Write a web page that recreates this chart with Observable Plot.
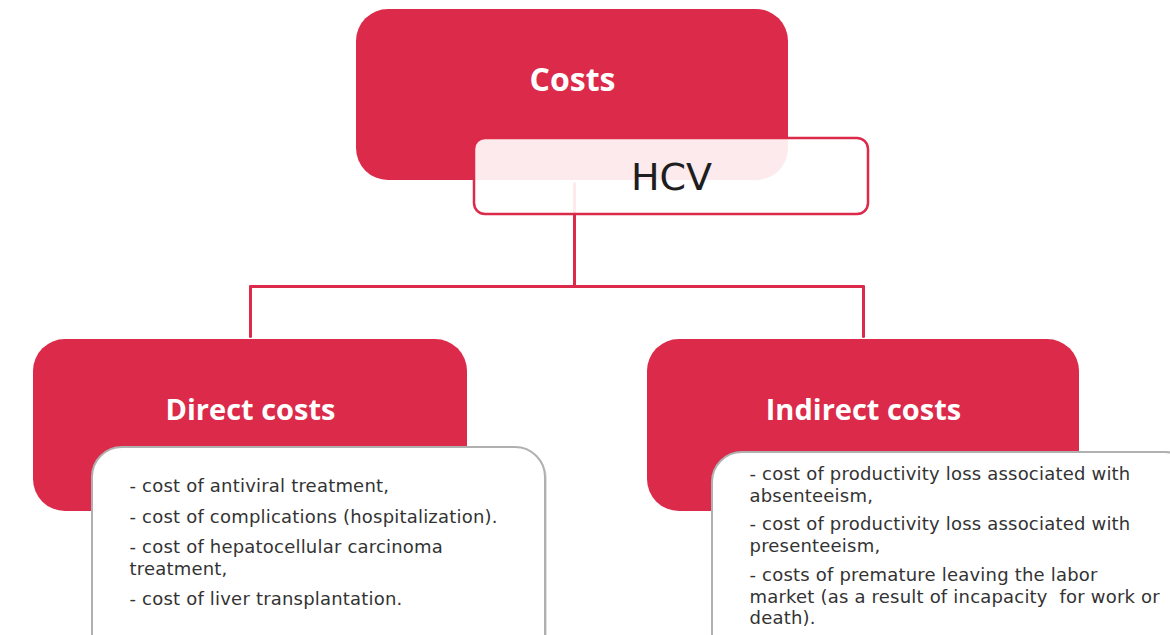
<!DOCTYPE html>
<html>
<head>
<meta charset="utf-8">
<script src="https://cdn.jsdelivr.net/npm/d3@7"></script>
<script src="https://cdn.jsdelivr.net/npm/@observablehq/plot@0.6"></script>
<style>
  html, body { margin: 0; padding: 0; background: #fff; overflow: hidden; width: 1170px; height: 635px; }
  #chart svg { display: block; }
</style>
</head>
<body>
<div id="chart"></div>
<script>
// ---- content ----
const titles = ["Costs", "Direct costs", "Indirect costs"];
const centerLabel = ["HCV"];
const directItems = [
  "- cost of antiviral treatment,",
  "- cost of complications (hospitalization).",
  "- cost of hepatocellular carcinoma",
  "treatment,",
  "- cost of liver transplantation."
];
const indirectItems = [
  "- cost of productivity loss associated with",
  "absenteeism,",
  "- cost of productivity loss associated with",
  "presenteeism,",
  "- costs of premature leaving the labor",
  "market (as a result of incapacity  for work or",
  "death)."
];

// ---- layout (diagram coordinates, pixel space 1170 x 635, y downward) ----
const titleBoxX1 = [356, 33, 647];
const titleBoxX2 = [788, 467, 1079];
const titleBoxY1 = [9, 339, 339];
const titleBoxY2 = [180, 511, 511];
const titleX = [572, 250, 863];
const titleY = [80, 410, 410];

const hcvBox = {x1: 474, x2: 868, y1: 138, y2: 214, x: 671, y: 177};

const linkX1 = [574, 250, 250, 863];
const linkY1 = [183, 286, 286, 286];
const linkX2 = [574, 863, 250, 863];
const linkY2 = [286, 286, 336, 336];

const detailX1 = [92, 712];
const detailX2 = [545, 1195];
const detailY1 = [447, 452];
const detailY2 = [670, 670];

const directX = 129;
const directY = [486, 517, 547, 569, 599];
const indirectX = 749;
const indirectY = [474, 496, 524, 546, 575, 597, 618];

// ---- tables built from the arrays ----
const titleBoxes = titles.map((t, i) => ({t, x1: titleBoxX1[i], x2: titleBoxX2[i], y1: titleBoxY1[i], y2: titleBoxY2[i], x: titleX[i], y: titleY[i]}));
const links = linkX1.map((_, i) => ({x1: linkX1[i], y1: linkY1[i], x2: linkX2[i], y2: linkY2[i]}));
const details = detailX1.map((_, i) => ({x1: detailX1[i], x2: detailX2[i], y1: detailY1[i], y2: detailY2[i]}));
const lines = [
  ...directItems.map((t, i) => ({t, x: directX, y: directY[i]})),
  ...indirectItems.map((t, i) => ({t, x: indirectX, y: indirectY[i]}))
];

const RED = "#dc2a4a";

const plot = Plot.plot({
  width: 1170,
  height: 635,
  margin: 0,
  style: {background: "#fff", overflow: "hidden"},
  x: {domain: [0, 1170], axis: null},
  y: {domain: [0, 635], reverse: true, axis: null},
  marks: [
    // red title boxes
    Plot.rect(titleBoxes, {x1: "x1", x2: "x2", y1: "y1", y2: "y2", fill: RED, rx: 32}),
    // connectors
    Plot.link(links, {x1: "x1", y1: "y1", x2: "x2", y2: "y2", stroke: RED, strokeWidth: 3, strokeLinecap: "round"}),
    // HCV box (semi-transparent white over the red box)
    Plot.rect([hcvBox], {x1: "x1", x2: "x2", y1: "y1", y2: "y2", fill: "#fff", fillOpacity: 0.9, stroke: RED, strokeWidth: 2.5, rx: 11}),
    Plot.text(centerLabel, {x: () => hcvBox.x, y: () => hcvBox.y, text: d => d, fill: "#1e1e1e", fontSize: 38, fontFamily: "DejaVu Sans", lineAnchor: "middle"}),
    // titles
    Plot.text(titleBoxes.slice(0, 1), {x: "x", y: "y", text: "t", fill: "#fff", fontSize: 32, fontWeight: "bold", fontFamily: "Open Sans", lineAnchor: "middle"}),
    Plot.text(titleBoxes.slice(1), {x: "x", y: "y", text: "t", fill: "#fff", fontSize: 29, fontWeight: "bold", fontFamily: "Open Sans", lineAnchor: "middle"}),
    // detail boxes: soft shadow + white card
    Plot.rect(details, {x1: "x1", x2: "x2", y1: "y1", y2: "y2", fill: "#e0e0e0", rx: 30, dx: 2, dy: 2}),
    Plot.rect(details, {x1: "x1", x2: "x2", y1: "y1", y2: "y2", fill: "#fff", stroke: "#b0b0b0", strokeWidth: 2, rx: 30}),
    Plot.text(lines, {x: "x", y: "y", text: "t", textAnchor: "start", lineAnchor: "middle", fill: "#333", fontSize: 18, fontFamily: "DejaVu Sans"})
  ]
});

// slight tracking on the body text, like the original's wide geometric face
const textGroups = plot.querySelectorAll('g[aria-label="text"]');
textGroups[textGroups.length - 1].setAttribute("letter-spacing", "0.2");

document.getElementById("chart").appendChild(plot);
</script>
</body>
</html>
